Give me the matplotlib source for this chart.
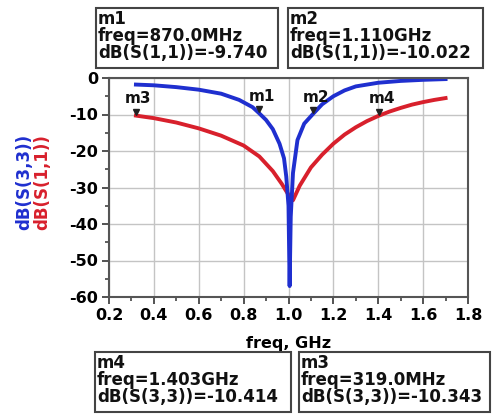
import numpy as np
import matplotlib
matplotlib.use("Agg")
import matplotlib.pyplot as plt
import matplotlib.transforms as mtransforms
from matplotlib.patches import Rectangle

plt.rcParams["axes.unicode_minus"] = False

# ---------- data ----------
freq_s33 = [0.32, 0.40, 0.50, 0.60, 0.70, 0.78, 0.84, 0.87, 0.90, 0.93, 0.96,
            0.98, 0.99, 1.00, 1.005, 1.01, 1.02, 1.04, 1.07, 1.11, 1.15, 1.20,
            1.25, 1.30, 1.40, 1.50, 1.60, 1.70]
db_s33 = [-1.8, -2.0, -2.5, -3.2, -4.3, -6.0, -8.0, -9.7, -11.5, -14.0, -18.0,
          -22.0, -27.0, -35.0, -57.0, -38.0, -26.0, -17.0, -12.5, -9.8, -7.2,
          -5.0, -3.4, -2.3, -1.3, -0.8, -0.5, -0.3]

freq_s11 = [0.32, 0.40, 0.50, 0.60, 0.70, 0.80, 0.87, 0.93, 0.97, 1.00, 1.02,
            1.05, 1.10, 1.15, 1.20, 1.25, 1.30, 1.35, 1.40, 1.45, 1.50, 1.55,
            1.60, 1.65, 1.70]
db_s11 = [-10.3, -11.0, -12.2, -13.8, -15.8, -18.5, -21.5, -25.5, -29.0, -32.0,
          -33.5, -29.5, -24.5, -21.0, -18.0, -15.5, -13.5, -11.8, -10.4, -9.2,
          -8.2, -7.3, -6.6, -6.0, -5.5]

# markers: name, freq (GHz), value, readout text
marker_names = ["m1", "m2", "m3", "m4"]
marker_freq = [0.870, 1.110, 0.319, 1.403]
marker_db = [-9.740, -10.022, -10.343, -10.414]
marker_freq_txt = ["870.0MHz", "1.110GHz", "319.0MHz", "1.403GHz"]
marker_meas = ["dB(S(1,1))", "dB(S(1,1))", "dB(S(3,3))", "dB(S(3,3))"]

BLUE = "#1f2fcf"
RED = "#d8202c"
FONT = "DejaVu Sans"

W, H = 494, 416
fig = plt.figure(figsize=(W / 100, H / 100), dpi=100)
ax = fig.add_axes([109 / W, 1 - 297 / H, (468 - 109) / W, (297 - 78) / H])

ax.plot(freq_s11, db_s11, color=RED, lw=2.8, solid_joinstyle="round")
ax.plot(freq_s33, db_s33, color=BLUE, lw=2.8, solid_joinstyle="round")

# marker triangles sit just above the trace, label above them
tri = mtransforms.offset_copy(ax.transData, fig=fig, x=0, y=3, units="points")
for name, f, v in zip(marker_names, marker_freq, marker_db):
    ax.plot([f], [v], marker="v", ms=5, color="#222222", transform=tri)
    ax.annotate(name, (f, v), xytext=(2, 7), textcoords="offset points",
                ha="center", va="bottom", fontsize=11, fontweight="bold",
                family=FONT, color="#111111")

ax.set_xlim(0.2, 1.8)
ax.set_ylim(-60, 0)
ax.set_xticks(np.arange(0.2, 1.81, 0.2))
ax.set_xticklabels(["%.1f" % t for t in np.arange(0.2, 1.81, 0.2)])
ax.set_xticks(np.arange(0.3, 1.8, 0.2), minor=True)
ax.set_yticks(np.arange(-60, 1, 10))
ax.set_yticks(np.arange(-55, 0, 10), minor=True)
ax.grid(True, which="major", color="#c4c4c4", lw=1.0)
ax.tick_params(which="major", direction="out", length=5, width=1.3,
               color="#444444", labelsize=11.5, pad=3)
ax.tick_params(which="minor", direction="out", length=3, width=1.2,
               color="#444444")
for lab in ax.get_xticklabels() + ax.get_yticklabels():
    lab.set_fontweight("bold")
    lab.set_family(FONT)
for sp in ax.spines.values():
    sp.set_color("#555555")
    sp.set_linewidth(1.5)

ax.set_xlabel("freq, GHz", fontsize=11.5, fontweight="bold", family=FONT,
              labelpad=9)

# two-colour y label
fig.text(24 / W, 1 - 182 / H, "dB(S(3,3))", rotation=90, color=BLUE,
         fontsize=12, fontweight="bold", family=FONT, ha="center", va="center")
fig.text(42 / W, 1 - 182 / H, "dB(S(1,1))", rotation=90, color=RED,
         fontsize=12, fontweight="bold", family=FONT, ha="center", va="center")

# marker readout boxes (x0, y0, x1, y1 in pixels from top-left)
boxes = {"m1": (96, 8, 278, 68), "m2": (288, 8, 483, 68),
         "m4": (95, 352, 291, 412), "m3": (299, 352, 490, 412)}
for name, f_txt, meas, v in zip(marker_names, marker_freq_txt, marker_meas,
                                marker_db):
    x0, y0, x1, y1 = boxes[name]
    fig.patches.append(Rectangle((x0 / W, 1 - y1 / H), (x1 - x0) / W,
                                 (y1 - y0) / H, transform=fig.transFigure,
                                 fill=False, ec="#444444", lw=1.5))
    txt = "%s\nfreq=%s\n%s=%.3f" % (name, f_txt, meas, v)
    fig.text((x0 + 2) / W, 1 - (y0 + 2) / H, txt, ha="left", va="top",
             fontsize=12, fontweight="bold", family=FONT, linespacing=0.92,
             color="#111111")

fig.savefig("out.png", dpi=100)
